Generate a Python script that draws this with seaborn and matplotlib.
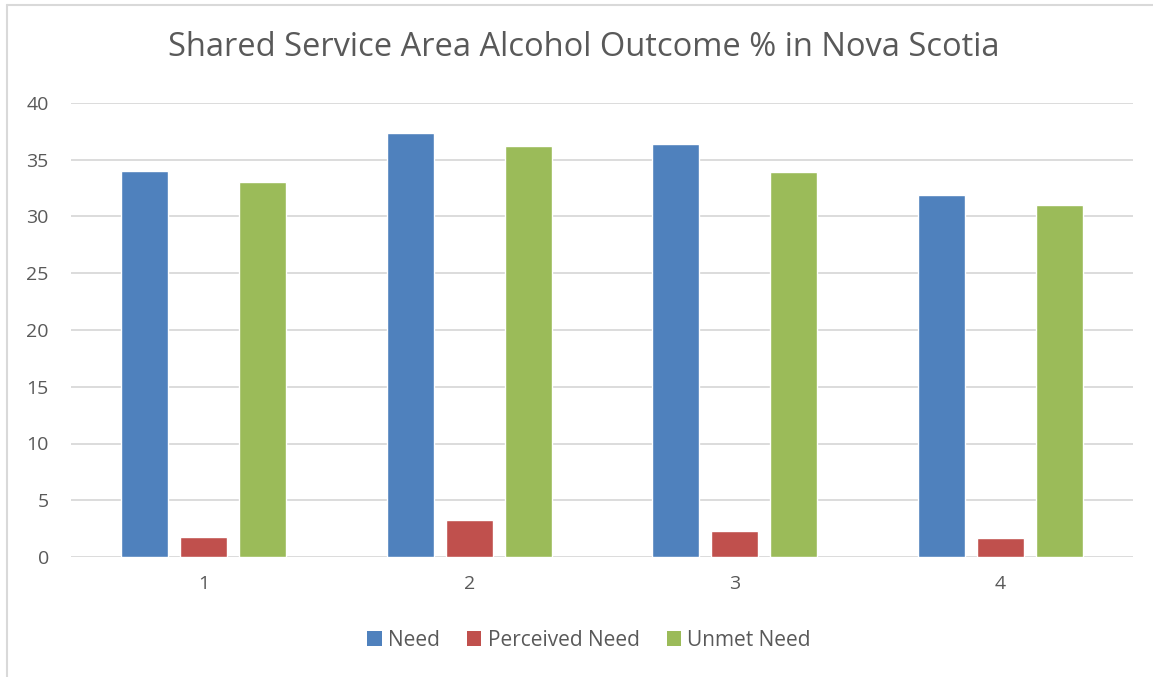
import matplotlib
matplotlib.use("Agg")
import matplotlib.pyplot as plt
from matplotlib.lines import Line2D
from matplotlib.patches import Patch
import pandas as pd
import seaborn as sns

# Shared service areas and alcohol outcome percentages
areas = ["1", "2", "3", "4"]
need = [34.0, 37.4, 36.4, 31.9]
perceived_need = [1.8, 3.3, 2.3, 1.7]
unmet_need = [33.0, 36.2, 33.9, 31.0]
series_names = ["Need", "Perceived Need", "Unmet Need"]
colors = ["#4F81BD", "#C0504D", "#9BBB59"]
y_ticks = [0, 5, 10, 15, 20, 25, 30, 35, 40]

rows = []
for name, values in zip(series_names, [need, perceived_need, unmet_need]):
    for area, v in zip(areas, values):
        rows.append({"Area": area, "Series": name, "Value": v})
df = pd.DataFrame(rows)

sns.set_theme(style="white")
plt.rcParams["font.family"] = ["Open Sans", "DejaVu Sans"]
text_color = "#595959"
grid_color = "#D9D9D9"

W, H = 1153, 677
fig = plt.figure(figsize=(W / 100, H / 100), dpi=100)
ax = fig.add_axes([71 / W, (H - 557) / H, (1133 - 71) / W, 454 / H])

sns.barplot(data=df, x="Area", y="Value", hue="Series", order=areas,
            hue_order=series_names, palette=colors, width=0.667, gap=0.2,
            saturation=1, legend=False, ax=ax)

ax.set_xlim(-0.5, len(areas) - 0.5)
ax.set_ylim(0, 40)
ax.set_yticks(y_ticks)
ax.set_yticklabels([str(t) for t in y_ticks])
ax.set_axisbelow(True)
ax.yaxis.grid(True, color=grid_color, linewidth=1.3)
ax.xaxis.grid(False)
for s in ax.spines.values():
    s.set_visible(False)
ax.set_xlabel("")
ax.set_ylabel("")
ax.tick_params(axis="both", length=0, labelsize=14, colors=text_color)
ax.tick_params(axis="y", pad=16)
ax.tick_params(axis="x", pad=13)

fig.text(584 / W, 1 - 48 / H, "Shared Service Area Alcohol Outcome % in Nova Scotia",
         ha="center", va="center", fontsize=23.5, color=text_color)

handles = [Patch(facecolor=c, edgecolor="none", label=n) for c, n in zip(colors, series_names)]
fig.legend(handles=handles, loc="center", bbox_to_anchor=(589 / W, 1 - 640 / H),
           ncol=3, frameon=False, fontsize=15, labelcolor=text_color,
           handlelength=0.7, handleheight=0.7, handletextpad=0.3, columnspacing=1.3)

# Chart frame
fig.add_artist(Line2D([7 / W, 7 / W], [0, 1 - 5 / H], transform=fig.transFigure,
                      color=grid_color, linewidth=1.5))
fig.add_artist(Line2D([7 / W, 1], [1 - 5 / H, 1 - 5 / H], transform=fig.transFigure,
                      color=grid_color, linewidth=1.5))

fig.savefig("out.png", dpi=100, facecolor="white")
